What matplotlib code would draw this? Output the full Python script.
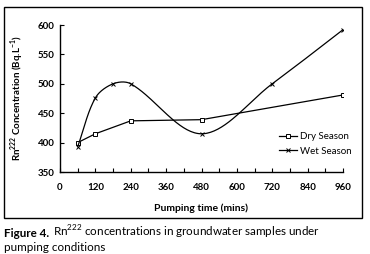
import numpy as np
import matplotlib.pyplot as plt
from matplotlib.patches import Rectangle

plt.rcParams['font.family'] = ['Lato', 'DejaVu Sans']
plt.rcParams['mathtext.fontset'] = 'custom'
plt.rcParams['mathtext.rm'] = 'Lato'
plt.rcParams['mathtext.bf'] = 'Lato:bold'

# data
dry_time = [60, 120, 240, 480, 960]
dry_rn = [400, 415, 437, 439, 481]
wet_time = [60, 120, 180, 240, 480, 720, 960]
wet_rn = [393, 476, 500, 500, 415, 500, 592]


def smooth_line(x, y, sx=283 / 960, sy=147 / 250, n=40):
    # smoothed line through the points (chord-length Catmull-Rom, in screen scale)
    p = np.column_stack([np.asarray(x, float) * sx, np.asarray(y, float) * sy])
    d = np.r_[0, np.cumsum(np.hypot(*np.diff(p, axis=0).T))]
    m = np.zeros_like(p)
    m[0] = (p[1] - p[0]) / (d[1] - d[0])
    m[-1] = (p[-1] - p[-2]) / (d[-1] - d[-2])
    for i in range(1, len(p) - 1):
        m[i] = (p[i + 1] - p[i - 1]) / (d[i + 1] - d[i - 1])
    t = np.linspace(0, 1, n)[:, None]
    out = []
    for i in range(len(p) - 1):
        h = d[i + 1] - d[i]
        c1 = p[i] + m[i] * h / 3
        c2 = p[i + 1] - m[i + 1] * h / 3
        seg = ((1 - t) ** 3) * p[i] + 3 * ((1 - t) ** 2) * t * c1 + 3 * (1 - t) * t ** 2 * c2 + t ** 3 * p[i + 1]
        out.append(seg)
    out = np.vstack(out)
    return out[:, 0] / sx, out[:, 1] / sy


fig = plt.figure(figsize=(3.70, 2.54), dpi=100)
ax = fig.add_axes([60 / 370, 1 - 172 / 254, 283 / 370, 147 / 254])

ax.plot(dry_time, dry_rn, color='black', lw=0.9, marker='s', ms=2.8,
        mfc='white', mec='black', mew=0.7, label='Dry Season')
cx, cy = smooth_line(wet_time, wet_rn)
ax.plot(cx, cy, color='black', lw=0.9)
ax.plot(wet_time, wet_rn, ls='none', marker='x', ms=2.8, mec='black', mew=0.7)
ax.plot([], [], color='black', lw=0.9, marker='x', ms=2.8, mew=0.7, label='Wet Season')

ax.set_xlim(0, 960)
ax.set_ylim(350, 600)
ax.set_xticks(range(0, 961, 120))
ax.set_xticks(range(0, 961, 60), minor=True)
ax.set_yticks(range(350, 601, 50))
ax.tick_params(axis='both', direction='in', length=3, width=0.8, labelsize=7, pad=4)
ax.tick_params(axis='x', pad=8)
ax.tick_params(axis='x', which='minor', direction='in', length=3, width=0.8)
for lab in ax.get_xticklabels() + ax.get_yticklabels():
    lab.set_fontweight('bold')
ax.spines['top'].set_visible(False)
ax.spines['right'].set_visible(False)
for s in ['left', 'bottom']:
    ax.spines[s].set_linewidth(1.0)

ax.set_xlabel('Pumping time (mins)', fontsize=7.5, fontweight='bold', labelpad=8)
ax.set_ylabel(r'Rn$^{\mathbf{222}}$ Concentration (Bq.L$^{\mathbf{-1}}$)', fontsize=7,
              fontweight='bold', labelpad=8)

ax.legend(loc='lower right', bbox_to_anchor=(1.06, 0.05), frameon=False, fontsize=7,
          handlelength=1.8, handletextpad=0.3, labelspacing=0.6)

fig.patches.append(Rectangle((4 / 370, 1 - 218 / 254), 358 / 370, 211 / 254,
                             transform=fig.transFigure, fill=False, lw=1.0, ec='black'))

fig.text(4 / 370, 1 - 237 / 254, 'Figure 4.', fontsize=8.4, fontweight='bold', va='baseline')
fig.text(53 / 370, 1 - 237 / 254, r'Rn$^{222}$ concentrations in groundwater samples under',
         fontsize=8.4, va='baseline')
fig.text(4 / 370, 1 - 251 / 254, 'pumping conditions', fontsize=8.4, va='baseline')

fig.savefig('out.png', dpi=100)
